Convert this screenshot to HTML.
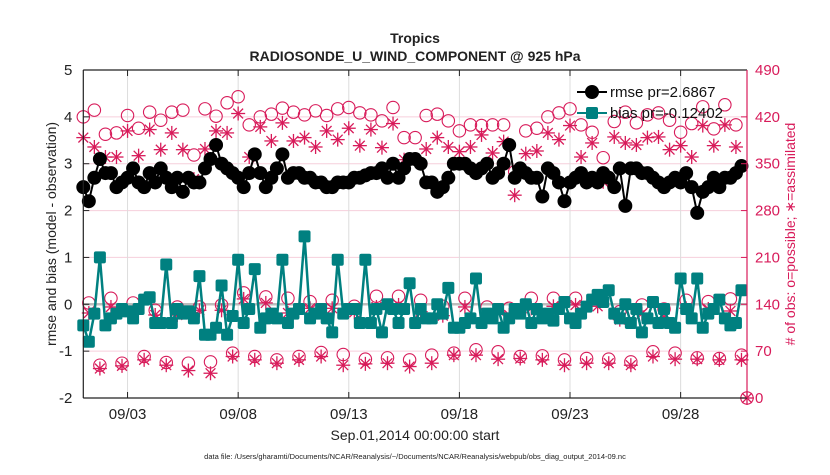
<!DOCTYPE html>
<html><head><meta charset="utf-8"><style>
body{margin:0;background:#fff}
svg text{font-family:"Liberation Sans",Arial,sans-serif}
</style></head><body>
<svg id="chart" width="830" height="470" xmlns="http://www.w3.org/2000/svg">
<rect width="830" height="470" fill="#fff"/>
<g id="grid"></g><g id="marks"></g><g id="axes"></g>
<text x="415" y="43" text-anchor="middle" font-size="14" font-weight="bold" fill="#222">Tropics</text>
<text x="415" y="61" text-anchor="middle" font-size="14" font-weight="bold" fill="#222">RADIOSONDE_U_WIND_COMPONENT @ 925 hPa</text>
<text x="415" y="440" text-anchor="middle" font-size="14" fill="#222">Sep.01,2014 00:00:00 start</text>
<text x="415" y="459" text-anchor="middle" font-size="7.5" fill="#222">data file: /Users/gharamti/Documents/NCAR/Reanalysis/~/Documents/NCAR/Reanalysis/webpub/obs_diag_output_2014-09.nc</text>
<text transform="translate(56,234) rotate(-90)" text-anchor="middle" font-size="14" fill="#222">rmse and bias (model - observation)</text>
<text transform="translate(795,234) rotate(-90)" text-anchor="middle" font-size="14" fill="#d81b5a">#  of obs: o=possible; ∗=assimilated</text>
<g>
<line x1="577" y1="92" x2="607" y2="92" stroke="#000" stroke-width="2"/><circle cx="592" cy="92" r="7" fill="#000"/>
<text x="610" y="97" font-size="15" fill="#111">rmse pr=2.6867</text>
<line x1="577" y1="113" x2="607" y2="113" stroke="#008080" stroke-width="2"/><rect x="586" y="107" width="12" height="12" rx="2" fill="#008080"/>
<text x="610" y="118" font-size="15" fill="#111">bias pr=-0.12402</text>
</g>
</svg>
<script>
const rmse=[2.5,2.2,2.7,3.1, 2.8,2.8,2.5,2.6, 2.7,2.9,2.6,2.5, 2.8,2.6,2.9,2.7, 2.5,2.7,2.4,2.7, 2.6,2.6,2.9,3.1, 3.4,3.0,2.9,2.8, 2.7,2.5,2.8,3.2, 2.8,2.5,2.7,2.9, 3.2,2.7,2.8,2.8, 2.7,2.7,2.6,2.6, 2.5,2.5,2.6,2.6, 2.6,2.7,2.7,2.75, 2.8,2.8,2.9,2.7, 3.0,2.7,2.9,3.1, 3.1,3.0,2.6,2.6, 2.4,2.5,2.7,3.0, 3.0,3.0,2.9,2.8, 2.9,3.0,2.7,2.8, 3.0,3.4,2.7,2.9, 2.8,2.7,2.7,2.3, 2.9,2.8,2.6,2.2, 2.6,2.7,2.8,2.6, 2.7,2.6,2.8,2.7, 2.5,2.9,2.1,2.9, 2.9,2.8,2.8,2.7, 2.6,2.5,2.6,2.7, 2.6,2.8,2.5,1.95, 2.4,2.5,2.7,2.5, 2.7,2.7,2.8,2.95];
const bias=[-0.45,-0.8,-0.2,1.0, -0.45,-0.3,-0.2,-0.1, -0.15,-0.3,-0.1,0.1, 0.15,-0.4,-0.4,0.85, -0.4,-0.1,-0.2,-0.15, -0.3,0.6,-0.65,-0.65, -0.5,0.4,-0.65,-0.25, 0.95,-0.4,-0.1,0.75, -0.5,-0.3,-0.2,-0.3, 0.95,-0.4,-0.2,-0.1, 1.45,-0.3,-0.2,-0.1, -0.3,-0.6,0.95,-0.2, -0.1,-0.1,-0.4,0.95, -0.4,-0.1,-0.6,0.0, -0.1,-0.4,-0.1,0.45, -0.4,-0.1,-0.3,-0.3, 0.0,-0.2,0.35,-0.5, -0.5,-0.4,-0.3,0.55, -0.4,-0.2,-0.3,-0.1, -0.5,-0.3,-0.1,-0.2, 0.0,-0.4,-0.1,-0.3, -0.2,-0.35,-0.1,0.05, -0.3,-0.4,-0.2,-0.05, 0.1,0.2,0.05,0.3, -0.2,-0.3,0.0,-0.4, -0.1,-0.6,-0.3,0.05, -0.4,-0.1,-0.4,-0.5, 0.55,-0.1,-0.3,0.55, -0.5,-0.2,-0.1,0.1, -0.3,-0.45,-0.4,0.3];
const possible12=[420,430,394,396,422,403,427,415,427,430,363,432,421,441,450,408,420,424,433,427,423,429,422,432,434,426,423,414,434,389,389,422,424,414,399,408,407,408,408,338,399,403,420,426,432,408,397,359,413,427,411,423,426,415,397,410,435,402,438,408,0];
const assim12=[389,375,360,360,399,362,401,371,396,371,327,372,399,396,425,360,405,384,411,384,389,375,399,386,403,377,401,374,410,356,356,372,389,375,368,375,393,366,383,303,365,369,396,386,407,360,381,323,390,381,378,389,390,371,377,360,407,377,408,375,0];
const possible06=[142,149,142,131,136,136,139,157,151,149,144,146,137,152,152,146,137,149,136,134,149,149,149,150,129,139,133,146,144,148];
const assim06=[127,136,129,124,124,131,131,148,142,127,134,134,128,136,139,129,123,136,123,124,134,137,139,137,117,126,120,134,133,130];
const possible18=[49,52,62,53,52,54,67,62,57,62,68,65,58,60,57,64,67,72,69,62,63,57,59,58,54,69,67,60,59,64];
const assim18=[44,48,57,49,41,37,62,57,52,57,62,49,51,52,47,52,64,64,58,59,57,49,52,52,49,62,58,58,57,57];
const leftTicks=[5,4,3,2,1,0,-1,-2];
const rightTicks=[490,420,350,280,210,140,70,0];
const dateTicks=[2,7,12,17,22,27];
const dateLabels=["09/03","09/08","09/13","09/18","09/23","09/28"];

const X0=83.3,X1=747,Y0=70,Y1=398;
const xs=d=>X0+(X1-X0)*d/30;
const yl=v=>Y1-(v+2)/7*(Y1-Y0);
const yr=v=>Y1-v/490*(Y1-Y0);
const NS="http://www.w3.org/2000/svg";
function mk(tag,attrs,parent){const e=document.createElementNS(NS,tag);for(const k in attrs)e.setAttribute(k,attrs[k]);parent.appendChild(e);return e;}
const grid=document.getElementById('grid'),marks=document.getElementById('marks'),axes=document.getElementById('axes');
const MAG="#d81b5a";

leftTicks.forEach(v=>{
  const y=yl(v);
  const g=mk('line',{x1:X0,x2:X1,y1:y,y2:y,stroke:'#f6cfdc','stroke-width':1},grid);
  
  
  mk('line',{x1:X0,x2:X0+6,y1:y,y2:y,stroke:'#222'},axes);
  const t=mk('text',{x:X0-11,y:y+5,'text-anchor':'end','font-size':15,fill:'#222'},axes);
  t.textContent=v;
  
  
});
rightTicks.forEach(v=>{
  const y=yr(v);
  mk('line',{x1:X1-6,x2:X1,y1:y,y2:y,stroke:MAG},axes);
  const t=mk('text',{x:X1+8,y:y+5,'font-size':15,fill:MAG},axes);
  t.textContent=v;
  
  
});
dateTicks.forEach((d,i)=>{
  const x=xs(d);
  const g=mk('line',{x1:x,x2:x,y1:Y0,y2:Y1,stroke:'#dcdcdc'},grid);
  
  
  mk('line',{x1:x,x2:x,y1:Y1,y2:Y1-6,stroke:'#222'},axes);
  mk('line',{x1:x,x2:x,y1:Y0,y2:Y0+6,stroke:'#222'},axes);
  const t=mk('text',{x:x,y:419,'text-anchor':'middle','font-size':15,fill:'#222'},axes);
  t.textContent=dateLabels[i];
  
  
});
const zl=mk('line',{x1:X0,x2:X1,y1:yl(0),y2:yl(0),stroke:'#bdbdbd','stroke-width':2.5},grid);



function circ(x,y){const c=mk('circle',{cx:x,cy:y,r:6.2,fill:'none',stroke:MAG,'stroke-width':1.1},marks);
  
  }
function star(x,y){const g=mk('g',{stroke:MAG,'stroke-width':1.3},marks);
  
  
  const r=7;mk('line',{x1:x-r,x2:x+r,y1:y,y2:y},g);mk('line',{x1:x,x2:x,y1:y-r,y2:y+r},g);
  const q=r*0.7;mk('line',{x1:x-q,x2:x+q,y1:y-q,y2:y+q},g);mk('line',{x1:x-q,x2:x+q,y1:y+q,y2:y-q},g);}
possible12.forEach((v,k)=>circ(xs(k*0.5),yr(v)));
assim12.forEach((v,k)=>star(xs(k*0.5),yr(v)));
possible06.forEach((v,k)=>circ(xs(k+0.25),yr(v)));
assim06.forEach((v,k)=>star(xs(k+0.25),yr(v)));
possible18.forEach((v,k)=>circ(xs(k+0.75),yr(v)));
assim18.forEach((v,k)=>star(xs(k+0.75),yr(v)));

const rl=mk('polyline',{points:rmse.map((v,i)=>xs(i*0.25)+','+yl(v)).join(' '),fill:'none',stroke:'#000','stroke-width':2},marks);


rmse.forEach((v,i)=>{const c=mk('circle',{cx:xs(i*0.25),cy:yl(v),r:7,fill:'#000'},marks);
  
  });
const bl=mk('polyline',{points:bias.map((v,i)=>xs(i*0.25)+','+yl(v)).join(' '),fill:'none',stroke:'#008080','stroke-width':2.5},marks);


bias.forEach((v,i)=>{const c=mk('rect',{x:xs(i*0.25)-6,y:yl(v)-6,width:12,height:12,rx:2,fill:'#008080'},marks);
  
  });

const f1=mk('line',{x1:X0,x2:X1,y1:Y0,y2:Y0,stroke:'#222','stroke-width':1.2},axes);
const f2=mk('line',{x1:X0,x2:X1,y1:Y1,y2:Y1,stroke:'#222','stroke-width':1.2},axes);
const f3=mk('line',{x1:X0,x2:X0,y1:Y0,y2:Y1,stroke:'#222','stroke-width':1.2},axes);


const f4=mk('line',{x1:X1,x2:X1,y1:Y0,y2:Y1,stroke:MAG,'stroke-width':1.2},axes);




</script>
</body></html>
